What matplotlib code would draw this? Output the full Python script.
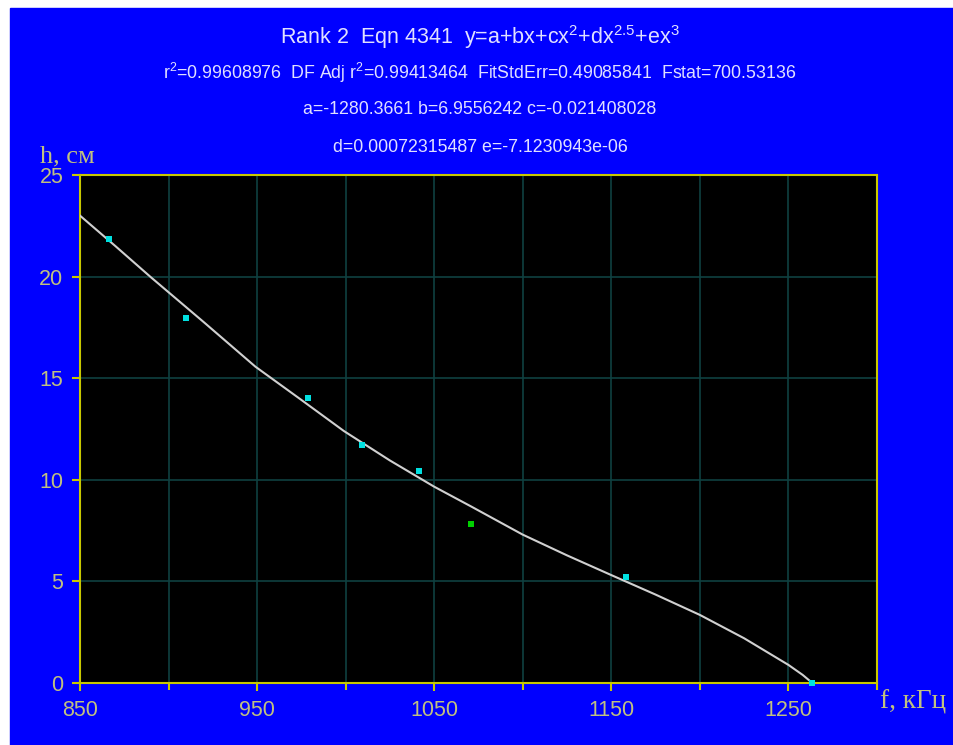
import numpy as np
import matplotlib
matplotlib.use('Agg')
import matplotlib.pyplot as plt
from matplotlib.patches import Rectangle

plt.rcParams['mathtext.fontset'] = 'custom'
plt.rcParams['mathtext.rm'] = 'Liberation Sans'

# measured points (f in kHz, h in cm)
f_pts = [866.5, 910, 979, 1009, 1041.5, 1158.5, 1263.5]
h_pts = [21.85, 17.96, 14.03, 11.7, 10.43, 5.22, 0.0]
# the odd one drawn in green
f_green = [1071]
h_green = [7.82]

# fitted curve
f_fit = [850, 870, 890, 920, 949, 975, 999, 1025, 1050, 1071, 1100, 1125, 1150,
         1175, 1200, 1225, 1250, 1258, 1263.5]
h_fit = [23.0, 21.5, 19.97, 17.75, 15.57, 13.93, 12.4, 10.95, 9.66, 8.68, 7.3, 6.28, 5.31,
         4.35, 3.35, 2.2, 0.89, 0.4, 0.0]

title_lines = [
    r'Rank 2  Eqn 4341  y=a+bx+cx$\mathregular{^2}$+dx$\mathregular{^{2.5}}$+ex$\mathregular{^3}$',
    r'r$\mathregular{^2}$=0.99608976  DF Adj r$\mathregular{^2}$=0.99413464  FitStdErr=0.49085841  Fstat=700.53136',
    'a=-1280.3661 b=6.9556242 c=-0.021408028',
    'd=0.00072315487 e=-7.1230943e-06',
]
title_y = [37, 73, 110, 147]
title_size = [15.5, 12.8, 12.8, 12.8]

blue = '#0000ff'
yel = '#c8c800'
lab = '#c0c080'
grid_c = '#0f4040'

fig = plt.figure(figsize=(9.54, 7.45), dpi=100, facecolor='white')
fig.patches.append(Rectangle((10 / 954, 0), 1, (745 - 8) / 745, transform=fig.transFigure,
                             color=blue, zorder=-10))

ax = fig.add_axes([80 / 954, 62 / 745, 797 / 954, 508 / 745], zorder=2)
ax.set_facecolor('black')
ax.set_xlim(850, 1300)
ax.set_ylim(0, 25)

ax.set_xticks(np.arange(850, 1251, 100))
ax.set_xticks(np.arange(900, 1301, 100), minor=True)
ax.set_yticks(np.arange(0, 26, 5))
ax.grid(True, which='both', color=grid_c, lw=1.2, zorder=1)
ax.set_axisbelow(True)
for s in ax.spines.values():
    s.set_color(yel)
    s.set_linewidth(1.5)
ax.tick_params(which='major', colors=yel, width=1.5, length=6, direction='out')
ax.tick_params(which='minor', colors=yel, width=1.5, length=5, direction='out')
ax.tick_params(axis='both', labelcolor=lab, labelsize=15.5, pad=6)
for t in ax.get_xticklabels() + ax.get_yticklabels():
    t.set_family('Liberation Sans')

ax.plot(f_fit, h_fit, color='#d0d0d0', lw=1.5, zorder=3)
ax.plot(f_pts, h_pts, 's', color='#00e0e0', ms=4.5, mew=0, zorder=4, clip_on=False)
ax.plot(f_green, h_green, 's', color='#00d000', ms=4.5, mew=0, zorder=4)

for txt, yy, fs in zip(title_lines, title_y, title_size):
    fig.text(480 / 954, 1 - yy / 745, txt, ha='center', va='center', color='#e0e0ff',
             fontsize=fs, family='Liberation Sans', zorder=5)

fig.text(40 / 954, 1 - 156 / 745, 'h, см', ha='left', va='center', color=lab,
         fontsize=19, family='Liberation Serif', zorder=5)
fig.text(880 / 954, 1 - 702 / 745, 'f, кГц', ha='left', va='center', color=lab,
         fontsize=19.5, family='Liberation Serif', zorder=5)

fig.savefig('out.png', dpi=100, facecolor=fig.get_facecolor())
